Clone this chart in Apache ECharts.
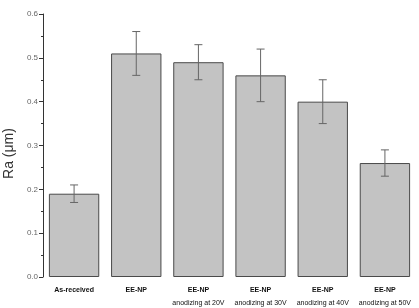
<!DOCTYPE html>
<html><head><meta charset="utf-8">
<script src="https://cdn.jsdelivr.net/npm/echarts@6/dist/echarts.min.js"></script>
<style>html,body{margin:0;padding:0;background:#fff}#c{width:419px;height:308px}</style>
</head><body><div id="c"></div>
<script>
const categories = ["As-received", "EE-NP", "EE-NP\nanodizing at 20V", "EE-NP\nanodizing at 30V", "EE-NP\nanodizing at 40V", "EE-NP\nanodizing at 50V"];
const raValues = [0.19, 0.51, 0.49, 0.46, 0.40, 0.26];
const errLow = [0.17, 0.46, 0.45, 0.40, 0.35, 0.23];
const errHigh = [0.21, 0.56, 0.53, 0.52, 0.45, 0.29];
const yTicks = [0.0, 0.1, 0.2, 0.3, 0.4, 0.5, 0.6];

const chart = echarts.init(document.getElementById('c'), null, {renderer: 'canvas'});
const errData = categories.map((c, i) => [i, errLow[i], errHigh[i]]);
const FF = 'Liberation Sans, Arial, sans-serif';
chart.setOption({
  animation: false,
  grid: {left: 43, right: 3, top: 14, bottom: 31, containLabel: false, outerBoundsMode: 'none'},
  xAxis: {
    type: 'category', data: categories,
    axisLine: {show: false}, axisTick: {show: false},
    axisLabel: {
      interval: 0, margin: 7, hideOverlap: false,
      formatter: function (v) {
        const parts = v.split('\n');
        return parts.map((p, k) => k === 0 ? '{a|' + p + '}' : '{b|' + p + '}').join('\n');
      },
      rich: {
        a: {fontSize: 7, fontWeight: 'bold', color: '#111', fontFamily: FF, lineHeight: 13},
        b: {fontSize: 7, fontWeight: 'normal', color: '#111', fontFamily: FF, lineHeight: 13}
      }
    }
  },
  yAxis: {
    type: 'value', min: yTicks[0], max: yTicks[yTicks.length - 1], interval: 0.1,
    name: 'Ra (\u03bcm)', nameLocation: 'middle', nameGap: 23,
    nameTextStyle: {fontSize: 14, color: '#333', fontFamily: FF, padding: [0, 16, 0, 0]},
    axisLine: {show: true, lineStyle: {color: '#333', width: 1}},
    axisTick: {show: true, inside: false, length: 4, lineStyle: {color: '#333'}},
    minorTick: {show: true, splitNumber: 2, length: 2, lineStyle: {color: '#333'}},
    splitLine: {show: false},
    axisLabel: {
      fontSize: 8, color: '#666', margin: 5, fontFamily: FF,
      formatter: v => v.toFixed(1)
    }
  },
  series: [
    {
      type: 'bar', data: raValues, barCategoryGap: '19%',
      itemStyle: {color: '#c3c3c3', borderColor: '#4a4a4a', borderWidth: 1}
    },
    {
      type: 'custom', data: errData, z: 10,
      renderItem: function (params, api) {
        const x = api.value(0);
        const lo = api.coord([x, api.value(1)]);
        const hi = api.coord([x, api.value(2)]);
        const cap = 4;
        const st = {stroke: '#666', lineWidth: 1};
        return {
          type: 'group',
          children: [
            {type: 'line', shape: {x1: lo[0], y1: lo[1], x2: hi[0], y2: hi[1]}, style: st},
            {type: 'line', shape: {x1: lo[0] - cap, y1: lo[1], x2: lo[0] + cap, y2: lo[1]}, style: st},
            {type: 'line', shape: {x1: hi[0] - cap, y1: hi[1], x2: hi[0] + cap, y2: hi[1]}, style: st}
          ]
        };
      }
    }
  ]
});
</script></body></html>
